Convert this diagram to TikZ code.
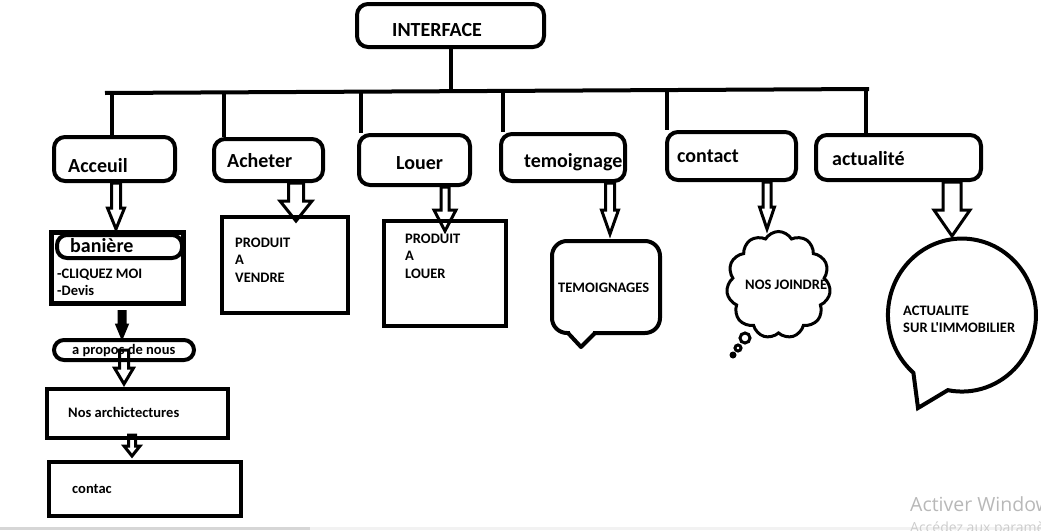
\documentclass[tikz,border=0pt]{standalone}
\usepackage{fontspec}
\newfontfamily\carl{Carlito}
\newfontfamily\winfont{Open Sans}
\usetikzlibrary{calc,shapes.symbols}

\tikzset{
  box/.style={draw,line width=4pt,rounded corners=11pt,inner sep=0pt},
  sqbox/.style={draw,line width=4pt,inner sep=0pt},
  big/.style={font=\carl\bfseries\fontsize{20}{24}\selectfont,inner sep=0pt,anchor=base west},
  small/.style={font=\carl\bfseries\fontsize{14.5}{17.5}\selectfont,inner sep=0pt,anchor=base west},
  lines/.style={small,anchor=north west,align=left},
  link/.style={line width=4pt},
  hollow/.style={line width=3pt},
  winmark/.style={text=black!28,inner sep=0pt,anchor=base west},
}

\newcommand\blockarrow[6][]{%
  \draw[hollow,#1] let \p1=(#2), \p2=(#3) in
    (\x1-#4pt,\y1) -- (\x1-#4pt,\y2+#6pt) -- (\x1-#5pt,\y2+#6pt) -- (\x1,\y2)
    -- (\x1+#5pt,\y2+#6pt) -- (\x1+#4pt,\y2+#6pt) -- (\x1+#4pt,\y1) -- cycle;}

\begin{document}
\begin{tikzpicture}[x=1pt,y=-1pt]
\useasboundingbox (0,0) rectangle (1041,530);
\fill[black!16] (0,527) rectangle (310,530);
\fill[black!5] (310,527) rectangle (1041,530);

\node[box,minimum width=187pt,minimum height=43pt] (interface) at (450.5,25.5) {};
\node[big] (interface-t) at (392,36) {INTERFACE};

\coordinate (barL) at (105,93);
\coordinate (barR) at (869,89);
\draw[link] (barL) -- (barR);
\draw[link] (interface.south) -- (interface.south |- 0,91);

\node[box,minimum width=121pt,minimum height=44pt] (acceuil) at (114.5,159) {};
\node[box,minimum width=109pt,minimum height=42pt] (acheter) at (268.5,160) {};
\node[box,minimum width=111pt,minimum height=50pt] (louer) at (414.5,160) {};
\node[box,minimum width=124pt,minimum height=47pt] (temoignage) at (563,157.5) {};
\node[box,minimum width=129pt,minimum height=48pt] (contact) at (731.5,156) {};
\node[box,minimum width=165pt,minimum height=45pt] (actualite) at (898.5,157.5) {};

\node[big] (acceuil-t) at (68,172) {Acceuil};
\node[big] (acheter-t) at (227,167) {Acheter};
\node[big] (louer-t) at (396,169) {Louer};
\node[big] (temoignage-t) at (524,167) {temoignage};
\node[big] (contact-t) at (677,162) {contact};
\node[big] (actualite-t) at (832,165) {actualité};

\foreach \n/\x/\y in {acceuil/112/93,acheter/224/92.5,louer/361/92,temoignage/503/91,contact/667/90,actualite/866/89}
  \draw[link] (\x,\y) -- (\x,\y |- \n.north);

\node[sqbox,line width=5pt,minimum width=132pt,minimum height=71pt] (baniere) at (117,267.5) {};
\node[box,rounded corners=10pt,minimum width=125pt,minimum height=23pt] (baniere-h) at (119.5,246.5) {};
\node[big] (baniere-t) at (70,252) {banière};
\node[lines] (baniere-l) at (57,268.7) {-CLIQUEZ MOI\\-Devis};

\node[sqbox,minimum width=126pt,minimum height=96pt] (vendre) at (285,265) {};
\node[lines] (vendre-t) at (235,237.7) {PRODUIT\\A\\VENDRE};
\node[sqbox,minimum width=122pt,minimum height=105pt] (louerbox) at (445,273.5) {};
\node[lines] (louerbox-t) at (405,233.7) {PRODUIT\\A\\LOUER};

\node[box,rounded corners=10pt,minimum width=140pt,minimum height=20pt] (apropos) at (124,350) {};
\node[small] (apropos-t) at (72,354) {a propos de nous};
\node[sqbox,minimum width=181pt,minimum height=49pt] (archi) at (137.5,413.5) {};
\node[small] (archi-t) at (68,417) {Nos archictectures};
\node[sqbox,minimum width=192pt,minimum height=54pt] (contac) at (145,489) {};
\node[small] (contac-t) at (72,493) {contac};

\node[box,rounded corners=15pt,minimum width=108pt,minimum height=92pt] (temoignages) at (606,287) {};
\fill[white] (570,330) rectangle (593,336);
\draw[link,line join=round] (568,333) -- (581,347) -- (595,333);
\node[small] (temoignages-t) at (558,292) {TEMOIGNAGES};

\node[cloud,draw,line width=3pt,cloud puffs=11,cloud puff arc=120,aspect=1,minimum width=104pt,minimum height=107pt,inner sep=0pt] (joindre) at (778.5,285) {};
\draw[hollow] (745,338) circle[radius=5];
\draw[hollow] (738,348) circle[radius=3];
\fill (733,355) circle[radius=3.5];
\node[small] (joindre-t) at (745,289) {NOS JOINDRE};

\draw[link] (913.4,372.8) arc[start angle=131,end angle=461,x radius=74,y radius=76.5] -- (918,408) -- cycle;
\node[lines] (actu-t) at (903,305.7) {ACTUALITE\\SUR L'IMMOBILIER};

\coordinate (a1) at (116,229);
\coordinate (a2) at (296,221);
\coordinate (a3) at (445,231);
\coordinate (a4) at (610,234);
\coordinate (a5) at (767,229);
\coordinate (a6) at (952,236);
\coordinate (a7) at (122,337);
\coordinate (a8) at (124,384);
\coordinate (a9) at (132,456);
\blockarrow{acceuil.south -| a1}{a1}{4.5}{8.5}{21}
\blockarrow{acheter.south -| a2}{a2}{7.5}{16}{20}
\blockarrow{louer.south -| a3}{a3}{4}{11}{21}
\blockarrow{temoignage.south -| a4}{a4}{4.5}{8.5}{24}
\blockarrow{contact.south -| a5}{a5}{4}{7.5}{22}
\blockarrow{actualite.south -| a6}{a6}{9}{18}{26}
\blockarrow[fill]{$(baniere.south -| a7)+(0,6)$}{a7}{3}{5}{12}
\blockarrow{apropos.center -| a8}{a8}{4.5}{9.5}{16}
\blockarrow{$(archi.south -| a9)+(0,-5)$}{a9}{3.5}{8}{10}

\node[winmark,font=\winfont\fontsize{19.5}{22}\selectfont] (win1) at (910,511) {Activer Windows};
\node[winmark,text=black!20,font=\winfont\fontsize{14}{16}\selectfont] (win2) at (910,532) {Accédez aux paramètres};
\end{tikzpicture}
\end{document}
